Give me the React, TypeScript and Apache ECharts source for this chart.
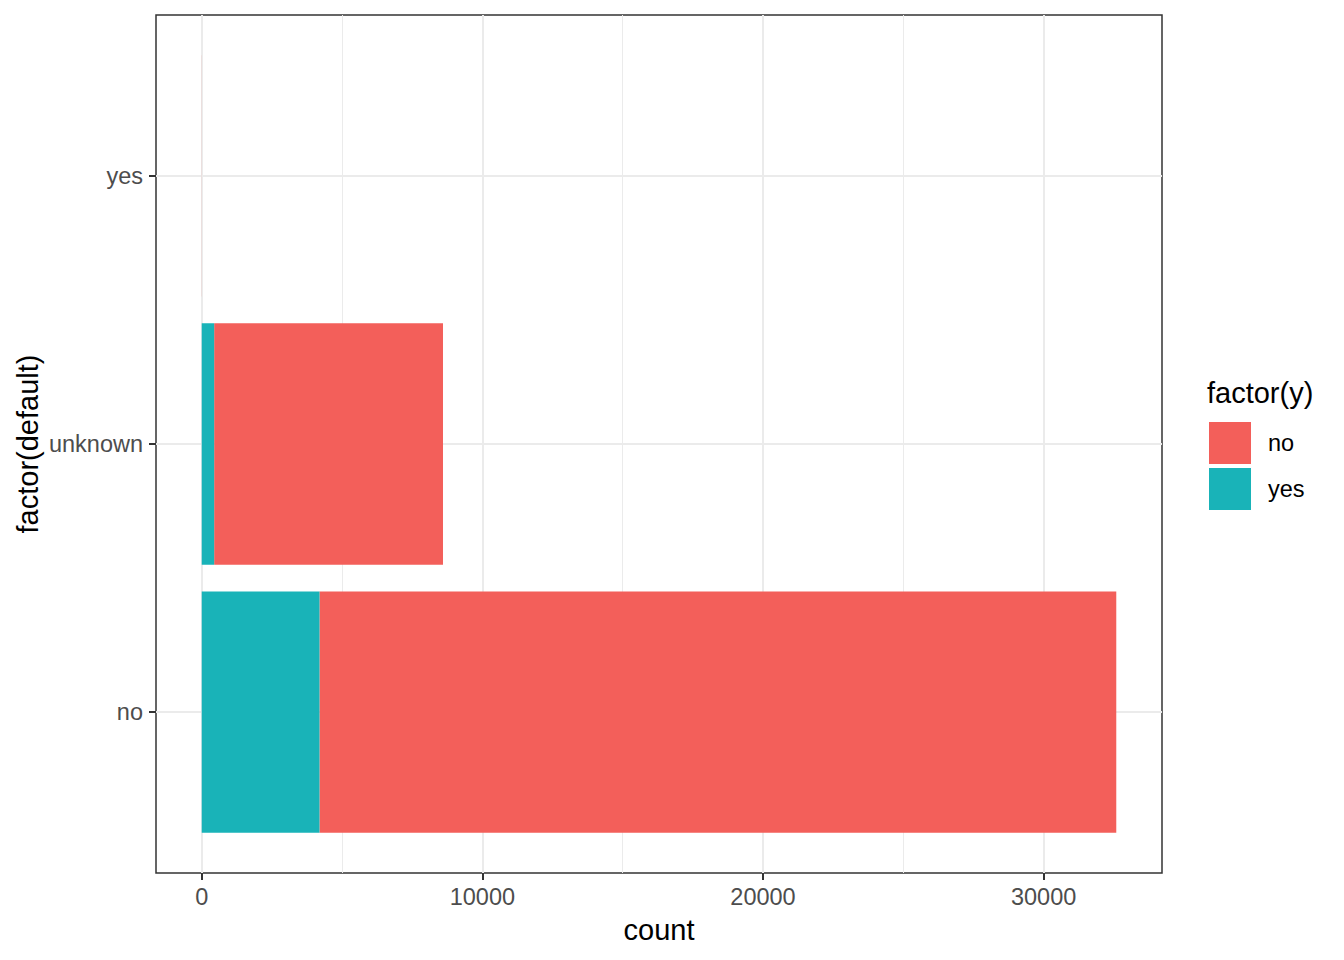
import React, { useEffect, useRef } from "react";
import * as echarts from "echarts";

const categories = ["no", "unknown", "yes"];
const yesCounts = [4197, 443, 0];
const noCounts = [28391, 8154, 3];
const majorTicks = [0, 10000, 20000, 30000];
const minorTicks = [5000, 15000, 25000];
const legendNames = ["no", "yes"];

const FONT = "'Liberation Sans', Arial, Helvetica, sans-serif";
const RED = "#F35F5A";
const TEAL = "#19B3B8";

export default function App() {
  const ref = useRef<HTMLDivElement>(null);
  useEffect(() => {
    if (!ref.current) return;
    const chart = echarts.init(ref.current, null, { renderer: "svg" });

    const yesData = categories.map((_, i) => [i + 1, 0, yesCounts[i]]);
    const noData = categories.map((_, i) => [i + 1, yesCounts[i], yesCounts[i] + noCounts[i]]);
    const total = Math.max(...categories.map((_, i) => yesCounts[i] + noCounts[i]));
    const xMin = -0.05 * total;
    const xMax = total * 1.05;

    const renderItem = (params: any, api: any) => {
      const cat = api.value(0);
      const s = api.value(1);
      const e = api.value(2);
      const p0 = api.coord([s, cat]);
      const p1 = api.coord([e, cat]);
      const h = api.size([0, 0.9])[1];
      return {
        type: "rect",
        shape: { x: p0[0], y: p0[1] - h / 2, width: Math.max(p1[0] - p0[0], 0), height: h },
        style: { fill: api.visual("color") },
      };
    };

    chart.setOption({
      animation: false,
      backgroundColor: "#fff",
      textStyle: { fontFamily: FONT },
      grid: {
        left: 156,
        top: 15,
        width: 1006,
        height: 858,
        show: true,
        borderColor: "#333333",
        borderWidth: 1.5,
        backgroundColor: "transparent",
      },
      xAxis: [
        {
          type: "value",
          min: xMin,
          max: xMax,
          axisLine: { show: false, onZero: false },
          axisTick: {
            show: true,
            customValues: majorTicks,
            length: 7,
            lineStyle: { color: "#333333", width: 2 },
          },
          axisLabel: {
            customValues: majorTicks,
            formatter: (v: number) => String(v),
            color: "#4D4D4D",
            fontSize: 23.5,
            fontFamily: FONT,
            margin: 12,
          },
          splitLine: { show: true, lineStyle: { color: "#EBEBEB", width: 2 } },
        },
        {
          type: "value",
          min: xMin,
          max: xMax,
          position: "bottom",
          axisLine: { show: false, onZero: false },
          axisTick: { show: false, customValues: minorTicks },
          axisLabel: { show: false, customValues: minorTicks },
          splitLine: { show: true, lineStyle: { color: "#EBEBEB", width: 1 } },
        },
      ],
      yAxis: {
        type: "value",
        min: 0.4,
        max: 3.6,
        axisLine: { show: false, onZero: false },
        axisTick: {
          show: true,
          customValues: [1, 2, 3],
          length: 7,
          lineStyle: { color: "#333333", width: 2 },
        },
        axisLabel: {
          customValues: [1, 2, 3],
          formatter: (v: number) => categories[Math.round(v) - 1] ?? "",
          color: "#4D4D4D",
          fontSize: 23.5,
          fontFamily: FONT,
          margin: 13,
        },
        splitLine: { show: true, lineStyle: { color: "#EBEBEB", width: 2 } },
      },
      legend: {
        data: legendNames,
        orient: "vertical",
        left: 1209,
        top: 422,
        padding: 0,
        itemWidth: 42,
        itemHeight: 42,
        itemGap: 4,
        icon: "rect",
        textStyle: { fontSize: 23.5, color: "#000", fontFamily: FONT, padding: [0, 0, 0, 12] },
      },
      graphic: [
        {
          type: "text",
          left: 1207,
          top: 378,
          style: { text: "factor(y)", fontSize: 29, fill: "#000", fontFamily: FONT },
        },
        {
          type: "text",
          x: 659,
          y: 930,
          style: {
            text: "count",
            fontSize: 29,
            fill: "#000",
            fontFamily: FONT,
            align: "center",
            verticalAlign: "middle",
          },
        },
        {
          type: "text",
          x: 28,
          y: 444,
          rotation: Math.PI / 2,
          style: {
            text: "factor(default)",
            fontSize: 29,
            fill: "#000",
            fontFamily: FONT,
            align: "center",
            verticalAlign: "middle",
          },
        },
      ],
      series: [
        {
          name: "no",
          type: "custom",
          renderItem,
          itemStyle: { color: RED },
          encode: { x: [1, 2], y: 0 },
          data: noData,
          z: 3,
        },
        {
          name: "yes",
          type: "custom",
          renderItem,
          itemStyle: { color: TEAL },
          encode: { x: [1, 2], y: 0 },
          data: yesData,
          z: 3,
        },
      ],
    });
    return () => chart.dispose();
  }, []);
  return (
    <div
      ref={ref}
      style={{ position: "absolute", left: 0, top: 0, width: 1344, height: 960 }}
    />
  );
}
